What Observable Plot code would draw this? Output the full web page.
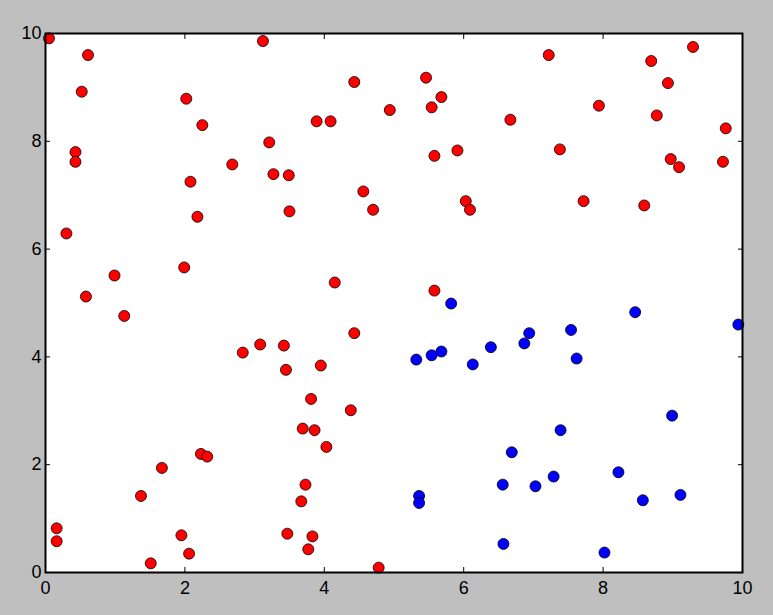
<!DOCTYPE html>
<html>
<head>
<meta charset="utf-8">
<script src="https://cdn.jsdelivr.net/npm/d3@7"></script>
<script src="https://cdn.jsdelivr.net/npm/@observablehq/plot@0.6"></script>
<style>
  html, body { margin: 0; padding: 0; background: #bfbfbf; }
  #chart { width: 773px; height: 615px; }
</style>
</head>
<body>
<div id="chart"></div>
<script>
const ticks = [0, 2, 4, 6, 8, 10];

const redX = [0.05,0.61,0.52,0.43,0.43,0.30,0.58,0.99,1.13,0.16,0.16,1.37,1.67,1.51,1.95,2.06,2.23,2.32,2.02,2.25,2.08,2.18,1.99,2.68,3.12,3.21,3.27,3.49,3.50,4.43,3.89,4.09,4.56,4.70,4.94,5.46,5.54,5.68,5.58,5.91,6.03,6.09,5.58,6.67,7.22,7.38,7.72,7.94,8.69,8.77,8.93,8.97,9.09,9.29,8.59,9.76,9.72,2.83,3.08,3.42,3.45,3.95,4.15,4.43,3.81,4.38,3.69,3.86,4.03,3.73,3.67,3.47,3.83,3.77,4.78];
const redY = [9.91,9.60,8.92,7.80,7.62,6.29,5.12,5.51,4.76,0.82,0.58,1.42,1.94,0.17,0.69,0.35,2.20,2.15,8.79,8.30,7.25,6.60,5.66,7.57,9.86,7.98,7.39,7.37,6.70,9.10,8.37,8.37,7.07,6.73,8.58,9.18,8.63,8.82,7.73,7.83,6.89,6.73,5.23,8.40,9.60,7.85,6.89,8.66,9.49,8.48,9.08,7.67,7.52,9.75,6.81,8.24,7.62,4.08,4.23,4.21,3.76,3.84,5.38,4.44,3.22,3.01,2.67,2.64,2.33,1.63,1.32,0.72,0.67,0.43,0.09];

const blueX = [5.82,5.32,5.54,5.68,6.13,6.39,6.94,6.87,7.54,7.62,8.46,9.94,5.36,5.36,8.99,7.39,6.69,8.22,7.29,6.56,7.03,9.11,8.57,6.57,8.02];
const blueY = [4.99,3.95,4.03,4.10,3.86,4.18,4.44,4.25,4.50,3.97,4.83,4.60,1.42,1.29,2.91,2.64,2.23,1.86,1.78,1.63,1.60,1.44,1.34,0.53,0.37];

const red = redX.map((x, i) => ({x, y: redY[i]}));
const blue = blueX.map((x, i) => ({x, y: blueY[i]}));

const chart = Plot.plot({
  width: 773,
  height: 615,
  marginLeft: 45,
  marginRight: 31,
  marginTop: 33,
  marginBottom: 43,
  style: {background: "#bfbfbf", fontFamily: "Liberation Sans, Arial, sans-serif", fontSize: "18px", color: "black"},
  x: {domain: [0, 10]},
  y: {domain: [0, 10]},
  marks: [
    Plot.frame({fill: "white", stroke: null}),
    Plot.dot(red, {x: "x", y: "y", r: 5.5, fill: "#ff0000", stroke: "#000", strokeWidth: 0.8}),
    Plot.dot(blue, {x: "x", y: "y", r: 5.5, fill: "#0000ff", stroke: "#000", strokeWidth: 0.8}),
    Plot.axisX({anchor: "bottom", ticks: ticks, tickSize: 5, tickPadding: 4, label: null, fill: "black", stroke: "black"}),
    Plot.axisX({anchor: "top", ticks: ticks, tickSize: 5, tickFormat: () => "", label: null, stroke: "black"}),
    Plot.axisY({anchor: "left", ticks: ticks, tickSize: 5, tickPadding: -1, label: null, fill: "black", stroke: "black"}),
    Plot.axisY({anchor: "right", ticks: ticks, tickSize: 5, tickFormat: () => "", label: null, stroke: "black"}),
    Plot.frame({stroke: "black", strokeWidth: 2, fill: null})
  ]
});
// turn the axis ticks inward (matplotlib classic style)
d3.select(chart).selectAll("g[aria-label$='-axis tick'] path").each(function() {
  const t = this.getAttribute("transform") || "";
  this.setAttribute("transform", (t + " scale(-1)").trim());
});
document.getElementById("chart").appendChild(chart);
</script>
</body>
</html>
